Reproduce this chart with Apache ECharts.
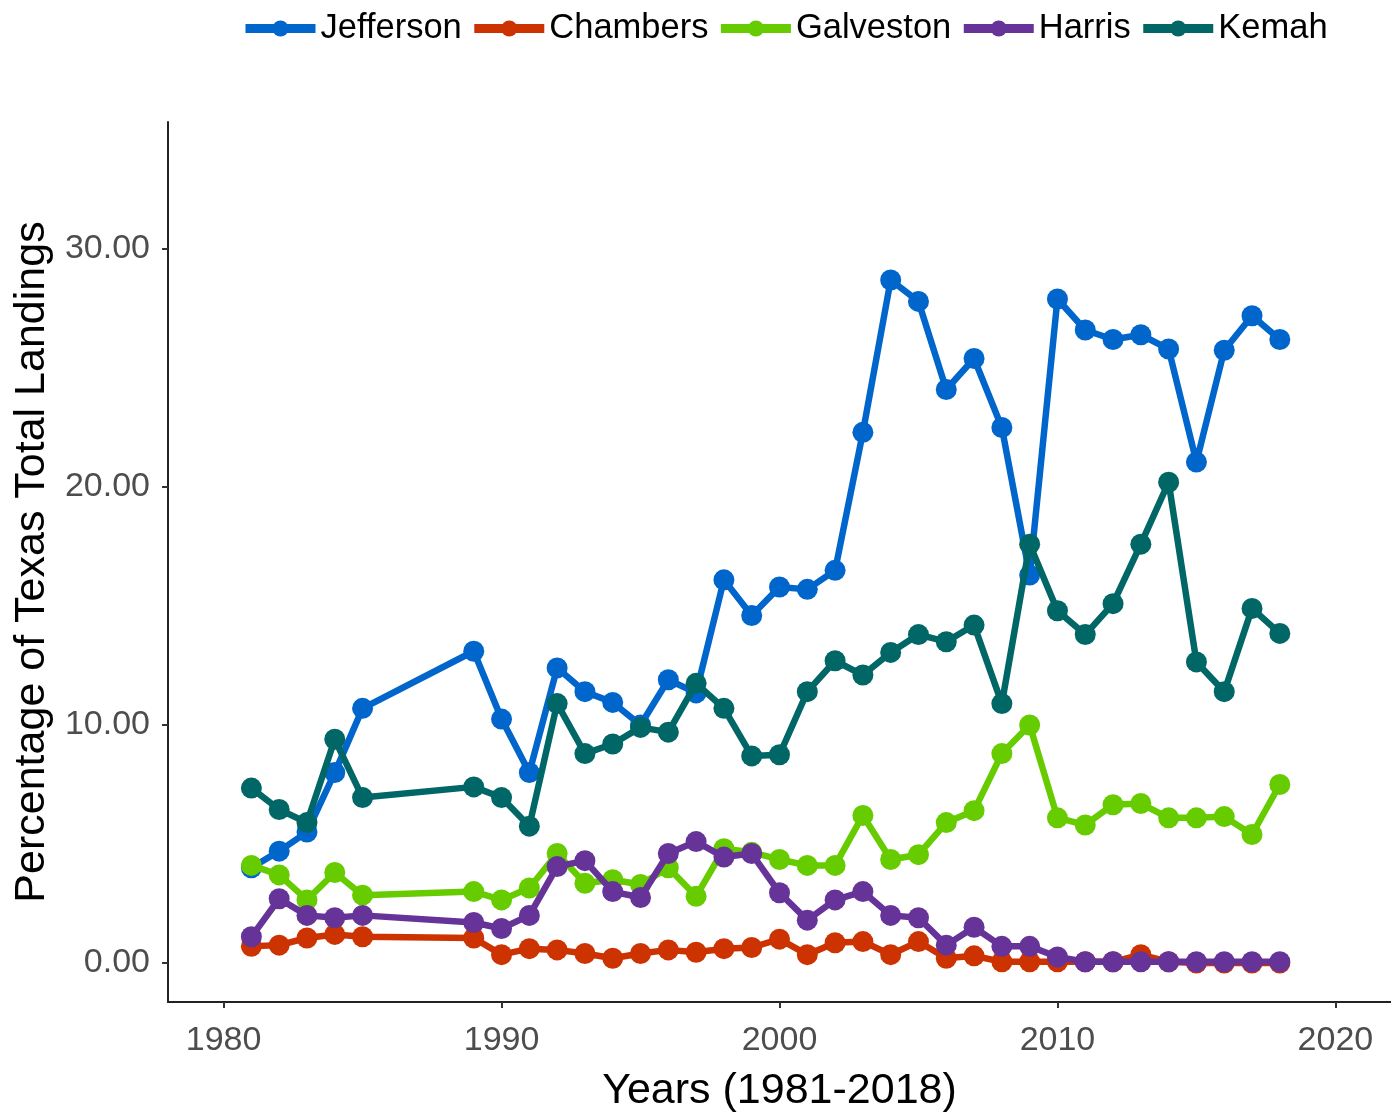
<!DOCTYPE html>
<html>
<head>
<meta charset="utf-8">
<script src="https://cdn.jsdelivr.net/npm/echarts@6/dist/echarts.min.js"></script>
<style>
html,body{margin:0;padding:0;background:#fff;overflow:hidden;}
#chart{width:1391px;height:1113px;}
</style>
</head>
<body>
<div id="chart"></div>
<script>
const years = [1981,1982,1983,1984,1985,1989,1990,1991,1992,1993,1994,1995,1996,1997,1998,1999,2000,2001,2002,2003,2004,2005,2006,2007,2008,2009,2010,2011,2012,2013,2014,2015,2016,2017,2018];
const jefferson = [4.0,4.7,5.5,8.0,10.7,13.1,10.25,8.0,12.4,11.4,10.95,10.0,11.9,11.35,16.1,14.6,15.8,15.7,16.5,22.3,28.7,27.8,24.1,25.4,22.5,16.3,27.9,26.6,26.2,26.4,25.8,21.05,25.75,27.2,26.2];
const chambers = [0.7,0.75,1.05,1.2,1.1,1.05,0.35,0.6,0.55,0.4,0.2,0.4,0.55,0.45,0.6,0.65,1.0,0.35,0.85,0.9,0.35,0.9,0.2,0.3,0.05,0.05,0.05,0.05,0.05,0.35,0.05,0.0,0.0,0.0,0.0];
const galveston = [4.1,3.7,2.65,3.8,2.85,3.0,2.65,3.15,4.6,3.35,3.5,3.3,4.0,2.8,4.8,4.65,4.35,4.1,4.1,6.2,4.35,4.55,5.9,6.4,8.8,10.0,6.1,5.8,6.65,6.7,6.1,6.1,6.15,5.4,7.5];
const harris = [1.1,2.7,2.0,1.9,2.0,1.7,1.45,2.0,4.05,4.3,3.0,2.75,4.6,5.1,4.45,4.6,2.95,1.8,2.65,3.0,2.0,1.9,0.75,1.5,0.7,0.7,0.25,0.05,0.05,0.05,0.05,0.05,0.05,0.05,0.05];
const kemah = [7.35,6.45,5.9,9.4,6.95,7.4,6.95,5.75,10.9,8.8,9.2,9.9,9.7,11.75,10.7,8.7,8.75,11.4,12.7,12.1,13.05,13.8,13.5,14.2,10.9,17.6,14.8,13.8,15.1,17.6,20.2,12.65,11.4,14.9,13.85];
const seriesNames = ['Jefferson','Chambers','Galveston','Harris','Kemah'];
const seriesValues = [jefferson, chambers, galveston, harris, kemah];
const colors = ['#0066CC','#CC3300','#66CC00','#663399','#006666'];
const xTicks = [1980,1990,2000,2010,2020];
const yTicks = [0,10,20,30];

const FONT = '"Liberation Sans", Arial, sans-serif';
const chart = echarts.init(document.getElementById('chart'), null, {renderer:'canvas', width:1391, height:1113});

const series = seriesNames.map((name, i) => ({
  name: name,
  type: 'line',
  data: years.map((y, j) => [y, seriesValues[i][j]]),
  symbol: 'circle',
  symbolSize: 21,
  showAllSymbol: true,
  lineStyle: {width: 6.5, color: colors[i]},
  itemStyle: {color: colors[i]},
  emphasis: {disabled: true},
  z: 2 + i
}));

chart.setOption({
  animation: false,
  backgroundColor: '#ffffff',
  color: colors,
  legend: {
    top: 6,
    left: 236,
    itemWidth: 70,
    itemHeight: 20,
    itemGap: 8,
    lineStyle: {width: 9},
    textStyle: {fontFamily: FONT, fontSize: 34.5, color: '#000'},
    data: seriesNames
  },
  grid: {left: 168, right: 0, top: 122, bottom: 111, containLabel: false, outerBoundsMode: 'none'},
  xAxis: {
    type: 'value',
    min: 1978,
    max: 2022,
    name: 'Years (1981-2018)',
    nameLocation: 'middle',
    nameGap: 68,
    nameTextStyle: {fontFamily: FONT, fontSize: 43, color: '#000'},
    axisLine: {show: true, onZero: false, lineStyle: {color: '#222', width: 2}},
    axisTick: {show: true, length: 6, customValues: xTicks, lineStyle: {color: '#333', width: 2}},
    axisLabel: {customValues: xTicks, fontFamily: FONT, fontSize: 34, color: '#4D4D4D', margin: 22,
      formatter: v => String(Math.round(v))},
    splitLine: {show: false}
  },
  yAxis: {
    type: 'value',
    min: -1.64,
    max: 35.34,
    name: 'Percentage of Texas Total Landings',
    nameLocation: 'middle',
    nameGap: 114,
    nameTextStyle: {fontFamily: FONT, fontSize: 43, color: '#000'},
    axisLine: {show: true, onZero: false, lineStyle: {color: '#222', width: 2}},
    axisTick: {show: true, length: 6, customValues: yTicks, lineStyle: {color: '#333', width: 2}},
    axisLabel: {customValues: yTicks, fontFamily: FONT, fontSize: 34, color: '#4D4D4D', margin: 18,
      formatter: v => Number(v).toFixed(2)},
    splitLine: {show: false}
  },
  series: series
});
</script>
</body>
</html>
